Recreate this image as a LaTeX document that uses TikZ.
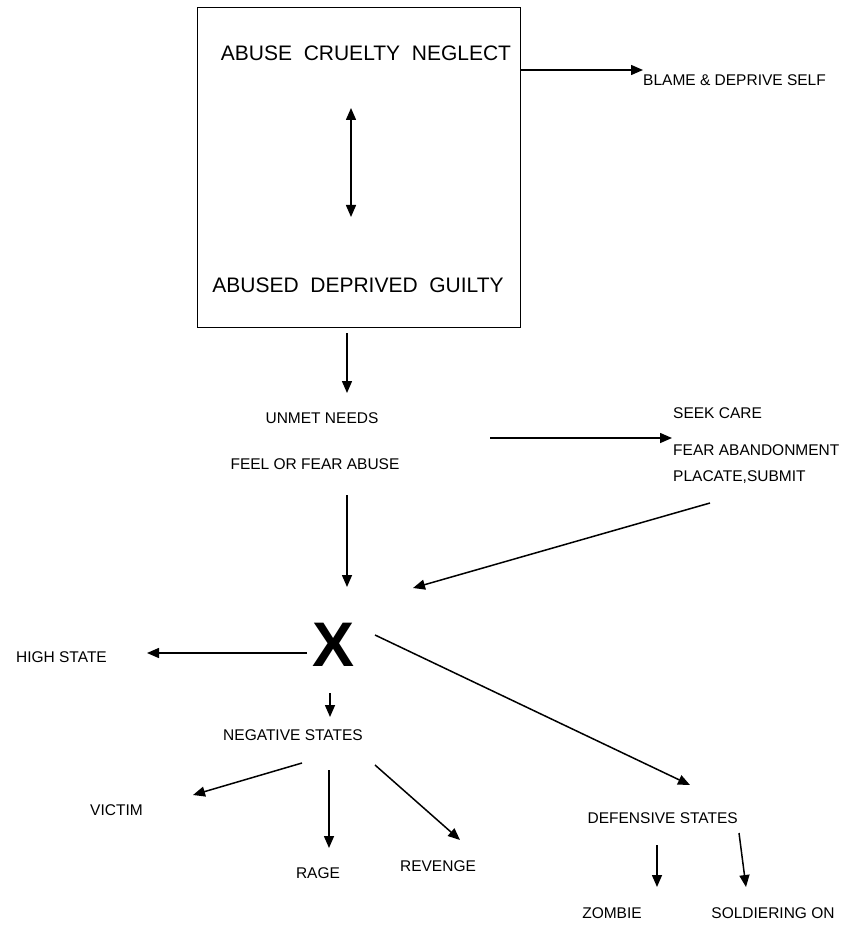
\documentclass[tikz,border=0pt]{standalone}
\usepackage{fontspec}
\setmainfont{Liberation Sans}
\usetikzlibrary{arrows.meta}
\begin{document}
\begin{tikzpicture}[x=1pt,y=-1pt,
  lbl/.style={inner sep=0pt, font=\fontsize{15.5}{18}\selectfont},
  big/.style={inner sep=0pt, font=\fontsize{21}{25}\selectfont},
  arr/.style={line width=1.5pt, -{Triangle[length=12pt,width=10pt]}},
  darr/.style={line width=1.5pt, {Triangle[length=12pt,width=10pt]}-{Triangle[length=12pt,width=10pt]}},
]
\useasboundingbox (0,0) rectangle (845,925);

% main box
\node[draw, line width=1.4pt, minimum width=323pt, minimum height=320pt, inner sep=0pt, anchor=north west] (box) at (197,7) {};
\node[big] (top) at (366,53) {ABUSE\ \ CRUELTY\ \ NEGLECT};
\node[big] (bot) at (358,285) {ABUSED\ \ DEPRIVED\ \ GUILTY};

% labels
\node[lbl, anchor=west] (blame) at (643,80) {BLAME \& DEPRIVE SELF};
\node[lbl] (unmet) at (322,418) {UNMET NEEDS};
\node[lbl] (feel) at (315,464) {FEEL OR FEAR ABUSE};
\node[lbl, anchor=west] (seek) at (673,413) {SEEK CARE};
\node[lbl, anchor=west] (fear) at (673,450) {FEAR ABANDONMENT};
\node[lbl, anchor=west] (placate) at (673,477) {PLACATE,SUBMIT};
\node[inner sep=0pt, font=\fontsize{63}{63}\bfseries\selectfont] (X) at (334,645) {X};
\node[lbl, anchor=east] (high) at (107,657) {HIGH STATE};
\node[lbl] (neg) at (293,735) {NEGATIVE STATES};
\node[lbl, anchor=west] (victim) at (90,810) {VICTIM};
\node[lbl] (rage) at (318,873) {RAGE};
\node[lbl] (revenge) at (438,866) {REVENGE};
\node[lbl, anchor=east] (def) at (738,818) {DEFENSIVE STATES};
\node[lbl] (zombie) at (612,913) {ZOMBIE};
\node[lbl] (soldier) at (773,913) {SOLDIERING ON};

% connector endpoints
\coordinate (d1) at (351,108);
\coordinate (d2) at (351,217);
\coordinate (b1) at (520,70);
\coordinate (b2) at (643,70);
\coordinate (u1) at (347,333);
\coordinate (u2) at (347,393);
\coordinate (f1) at (347,495);
\coordinate (f2) at (347,587);
\coordinate (h1) at (490,438);
\coordinate (h2) at (672,438);
\coordinate (p1) at (710,503);
\coordinate (p2) at (413,588);
\coordinate (x1) at (307,653);
\coordinate (x2) at (147,653);
\coordinate (n1) at (330,693);
\coordinate (n2) at (330,717);
\coordinate (e1) at (375,635);
\coordinate (e2) at (690,785);
\coordinate (v1) at (302,763);
\coordinate (v2) at (193,795);
\coordinate (r1) at (329,770);
\coordinate (r2) at (329,848);
\coordinate (g1) at (375,765);
\coordinate (g2) at (460,840);
\coordinate (z1) at (657,845);
\coordinate (z2) at (657,887);
\coordinate (s1) at (739,833);
\coordinate (s2) at (746,887);

% connectors
\draw[darr] (d1) -- (d2);
\draw[arr] (b1) -- (b2);
\draw[arr] (u1) -- (u2);
\draw[arr] (f1) -- (f2);
\draw[arr] (h1) -- (h2);
\draw[arr] (p1) -- (p2);
\draw[arr] (x1) -- (x2);
\draw[arr] (n1) -- (n2);
\draw[arr] (e1) -- (e2);
\draw[arr] (v1) -- (v2);
\draw[arr] (r1) -- (r2);
\draw[arr] (g1) -- (g2);
\draw[arr] (z1) -- (z2);
\draw[arr] (s1) -- (s2);
\end{tikzpicture}
\end{document}
